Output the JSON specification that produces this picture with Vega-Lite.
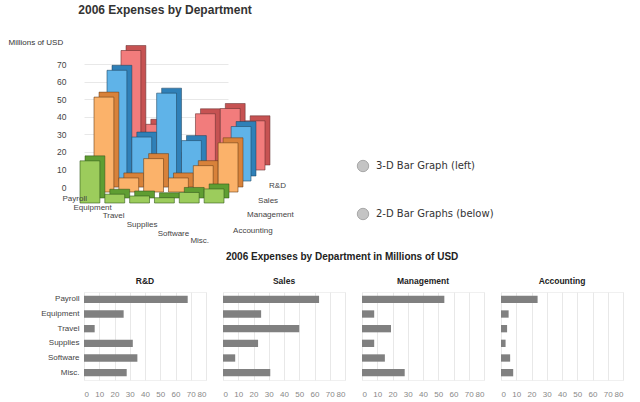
{
  "$schema": "https://vega.github.io/schema/vega-lite/v6.json",
  "background": "white",
  "padding": {"left": 8, "top": 4, "right": 0, "bottom": 0},
  "config": {
    "view": {"stroke": null},
    "font": "Liberation Sans"
  },
  "data": {
    "values": [
      {"dept": "R&D", "cat": "Payroll", "value": 68},
      {"dept": "R&D", "cat": "Equipment", "value": 26},
      {"dept": "R&D", "cat": "Travel", "value": 7},
      {"dept": "R&D", "cat": "Supplies", "value": 32},
      {"dept": "R&D", "cat": "Software", "value": 35},
      {"dept": "R&D", "cat": "Misc.", "value": 28},
      {"dept": "Sales", "cat": "Payroll", "value": 63},
      {"dept": "Sales", "cat": "Equipment", "value": 25},
      {"dept": "Sales", "cat": "Travel", "value": 50},
      {"dept": "Sales", "cat": "Supplies", "value": 23},
      {"dept": "Sales", "cat": "Software", "value": 8},
      {"dept": "Sales", "cat": "Misc.", "value": 31},
      {"dept": "Management", "cat": "Payroll", "value": 54},
      {"dept": "Management", "cat": "Equipment", "value": 8},
      {"dept": "Management", "cat": "Travel", "value": 19},
      {"dept": "Management", "cat": "Supplies", "value": 8},
      {"dept": "Management", "cat": "Software", "value": 15},
      {"dept": "Management", "cat": "Misc.", "value": 28},
      {"dept": "Accounting", "cat": "Payroll", "value": 24},
      {"dept": "Accounting", "cat": "Equipment", "value": 5},
      {"dept": "Accounting", "cat": "Travel", "value": 4},
      {"dept": "Accounting", "cat": "Supplies", "value": 3},
      {"dept": "Accounting", "cat": "Software", "value": 6},
      {"dept": "Accounting", "cat": "Misc.", "value": 8}
    ]
  },
  "spacing": 6,
  "vconcat": [
    {
      "spacing": 61,
      "hconcat": [
        {
          "width": 144,
          "height": 123,
          "title": {
            "text": "2006 Expenses by Department",
            "fontSize": 12,
            "fontWeight": "bold",
            "color": "#333333",
            "dx": 9,
            "offset": 21
          },
          "encoding": {
            "x": {
              "field": "cat",
              "type": "nominal",
              "sort": ["Payroll", "Equipment", "Travel", "Supplies", "Software", "Misc."],
              "scale": {"paddingInner": 0.2, "paddingOuter": 0},
              "axis": null
            },
            "y": {
              "field": "value",
              "type": "quantitative",
              "scale": {"domain": [0, 70]},
              "axis": {
                "values": [0, 10, 20, 30, 40, 50, 60, 70],
                "domain": false,
                "ticks": false,
                "labelPadding": 18,
                "labelFontSize": 8.5,
                "labelColor": "#444444",
                "gridColor": "#e8e8e8",
                "title": "Millions of USD",
                "titleAngle": 0,
                "titleAlign": "left",
                "titleBaseline": "middle",
                "titleX": -76,
                "titleY": -22,
                "titleFontSize": 8,
                "titleFontWeight": "normal",
                "titleColor": "#333333"
              }
            }
          },
          "layer": [
            {
              "transform": [{"filter": "datum.dept === 'R&D'"}],
              "mark": {"type": "bar", "color": "#c65252", "stroke": "#5a2a2a", "strokeWidth": 0.5, "xOffset": 42, "yOffset": -22, "y2Offset": -22}
            },
            {
              "transform": [{"filter": "datum.dept === 'R&D'"}],
              "mark": {"type": "bar", "color": "#f27c7c", "stroke": "#6a3030", "strokeWidth": 0.6, "xOffset": 37, "yOffset": -17, "y2Offset": -17}
            },
            {
              "transform": [{"filter": "datum.dept === 'Sales'"}],
              "mark": {"type": "bar", "color": "#2f80b8", "stroke": "#1d3d55", "strokeWidth": 0.5, "xOffset": 28, "yOffset": -11, "y2Offset": -11}
            },
            {
              "transform": [{"filter": "datum.dept === 'Sales'"}],
              "mark": {"type": "bar", "color": "#5fb3e8", "stroke": "#224a66", "strokeWidth": 0.6, "xOffset": 23, "yOffset": -6, "y2Offset": -6}
            },
            {
              "transform": [{"filter": "datum.dept === 'Management'"}],
              "mark": {"type": "bar", "color": "#d8823a", "stroke": "#5e3615", "strokeWidth": 0.5, "xOffset": 15, "yOffset": 0, "y2Offset": 0}
            },
            {
              "transform": [{"filter": "datum.dept === 'Management'"}],
              "mark": {"type": "bar", "color": "#fbb26a", "stroke": "#6b4018", "strokeWidth": 0.6, "xOffset": 10, "yOffset": 5, "y2Offset": 5}
            },
            {
              "transform": [{"filter": "datum.dept === 'Accounting'"}],
              "mark": {"type": "bar", "color": "#5f9e32", "stroke": "#2c4d17", "strokeWidth": 0.5, "xOffset": 1, "yOffset": 11, "y2Offset": 11}
            },
            {
              "transform": [{"filter": "datum.dept === 'Accounting'"}],
              "mark": {"type": "bar", "color": "#9ccc5c", "stroke": "#335a1c", "strokeWidth": 0.6, "xOffset": -4, "yOffset": 16, "y2Offset": 16}
            },
            {
              "transform": [{"filter": "datum.dept === 'R&D' && datum.cat === 'Misc.'"}],
              "mark": {"type": "text", "align": "left", "baseline": "middle", "dx": 51, "dy": -1, "fontSize": 8, "color": "#444444"},
              "encoding": {"y": {"datum": 0}, "text": {"field": "dept"}}
            },
            {
              "transform": [{"filter": "datum.dept === 'Sales' && datum.cat === 'Misc.'"}],
              "mark": {"type": "text", "align": "left", "baseline": "middle", "dx": 40, "dy": 14, "fontSize": 8, "color": "#444444"},
              "encoding": {"y": {"datum": 0}, "text": {"field": "dept"}}
            },
            {
              "transform": [{"filter": "datum.dept === 'Management' && datum.cat === 'Misc.'"}],
              "mark": {"type": "text", "align": "left", "baseline": "middle", "dx": 29, "dy": 28, "fontSize": 8, "color": "#444444"},
              "encoding": {"y": {"datum": 0}, "text": {"field": "dept"}}
            },
            {
              "transform": [{"filter": "datum.dept === 'Accounting' && datum.cat === 'Misc.'"}],
              "mark": {"type": "text", "align": "left", "baseline": "middle", "dx": 15, "dy": 44, "fontSize": 8, "color": "#444444"},
              "encoding": {"y": {"datum": 0}, "text": {"field": "dept"}}
            },
            {
              "transform": [{"filter": "datum.dept === 'Accounting' && datum.cat === 'Payroll'"}],
              "mark": {"type": "text", "align": "right", "baseline": "middle", "dx": -7, "dy": 12, "fontSize": 8, "color": "#444444"},
              "encoding": {"y": {"datum": 0}, "text": {"field": "cat"}}
            },
            {
              "transform": [{"filter": "datum.dept === 'Accounting' && datum.cat === 'Equipment'"}],
              "mark": {"type": "text", "align": "right", "baseline": "middle", "dx": -7, "dy": 21, "fontSize": 8, "color": "#444444"},
              "encoding": {"y": {"datum": 0}, "text": {"field": "cat"}}
            },
            {
              "transform": [{"filter": "datum.dept === 'Accounting' && datum.cat === 'Travel'"}],
              "mark": {"type": "text", "align": "right", "baseline": "middle", "dx": -19, "dy": 29, "fontSize": 8, "color": "#444444"},
              "encoding": {"y": {"datum": 0}, "text": {"field": "cat"}}
            },
            {
              "transform": [{"filter": "datum.dept === 'Accounting' && datum.cat === 'Supplies'"}],
              "mark": {"type": "text", "align": "right", "baseline": "middle", "dx": -11, "dy": 38, "fontSize": 8, "color": "#444444"},
              "encoding": {"y": {"datum": 0}, "text": {"field": "cat"}}
            },
            {
              "transform": [{"filter": "datum.dept === 'Accounting' && datum.cat === 'Software'"}],
              "mark": {"type": "text", "align": "right", "baseline": "middle", "dx": -4, "dy": 47, "fontSize": 8, "color": "#444444"},
              "encoding": {"y": {"datum": 0}, "text": {"field": "cat"}}
            },
            {
              "transform": [{"filter": "datum.dept === 'Accounting' && datum.cat === 'Misc.'"}],
              "mark": {"type": "text", "align": "right", "baseline": "middle", "dx": -9, "dy": 54, "fontSize": 8, "color": "#444444"},
              "encoding": {"y": {"datum": 0}, "text": {"field": "cat"}}
            }
          ]
        },
        {
          "width": 140,
          "height": 123,
          "data": {
            "values": [
              {"option": "3-D Bar Graph (left)"},
              {"option": "2-D Bar Graphs (below)"}
            ]
          },
          "encoding": {
            "x": {"datum": 0, "type": "quantitative", "scale": {"domain": [0, 1]}, "axis": null},
            "y": {
              "field": "option",
              "type": "nominal",
              "sort": null,
              "scale": {"type": "point", "range": [102, 150], "padding": 0},
              "axis": null
            }
          },
          "layer": [
            {
              "mark": {"type": "point", "shape": "circle", "filled": true, "size": 130, "color": "#c4c4c4", "stroke": "#a8a8a8", "strokeWidth": 1, "opacity": 1}
            },
            {
              "mark": {"type": "text", "align": "left", "baseline": "middle", "dx": 13, "font": "DejaVu Sans", "fontSize": 10, "color": "#333333"},
              "encoding": {"text": {"field": "option"}}
            }
          ]
        }
      ]
    },
    {
      "title": {
        "text": "2006 Expenses by Department in Millions of USD",
        "fontSize": 10,
        "fontWeight": "bold",
        "color": "#222222",
        "anchor": "middle",
        "dx": 10,
        "offset": 15
      },
      "spacing": 15,
      "facet": {
        "column": {
          "field": "dept",
          "type": "nominal",
          "sort": ["R&D", "Sales", "Management", "Accounting"],
          "header": {
            "title": null,
            "labelFontSize": 8.5,
            "labelFontWeight": "bold",
            "labelColor": "#222222",
            "labelPadding": 6
          }
        }
      },
      "spec": {
        "width": 122,
        "height": 88,
        "view": {"stroke": "#f0f0f0"},
        "mark": {"type": "bar", "color": "#808080"},
        "encoding": {
          "y": {
            "field": "cat",
            "type": "nominal",
            "sort": ["Payroll", "Equipment", "Travel", "Supplies", "Software", "Misc."],
            "scale": {"paddingInner": 0.5, "paddingOuter": 0.25},
            "axis": {
              "title": null,
              "domain": false,
              "ticks": false,
              "labelPadding": 4,
              "labelFontSize": 8,
              "labelColor": "#444444"
            }
          },
          "x": {
            "field": "value",
            "type": "quantitative",
            "scale": {"domain": [0, 80]},
            "axis": {
              "title": null,
              "values": [0, 10, 20, 30, 40, 50, 60, 70, 80],
              "domain": false,
              "ticks": false,
              "labelPadding": 9,
              "labelFontSize": 8,
              "labelColor": "#888888",
              "gridColor": "#e8e8e8"
            }
          }
        }
      }
    }
  ]
}
